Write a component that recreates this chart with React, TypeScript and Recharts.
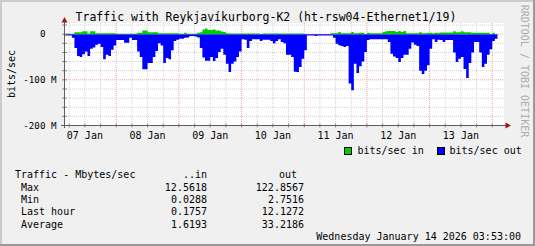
import { ComposedChart, Area, XAxis, YAxis, CartesianGrid } from "recharts";

// ── Data ──────────────────────────────────────────────────────────────────────
// hourly steps, hour 0 = 07 Jan 00:00; first step starts 07 Jan 04:00
const START_HOUR = 4;

// bits/sec in, M (drawn above zero)
const inMbits = [
  1, 1, 1, 1, 4, 4, 4, 6.5, 6.5, 1.5, 6.5, 6.5, 2, 2, 2, 2, 2, 2, 2, 2,
  1, 1, 1, 1, 1, 1, 1, 1, 3, 3, 8, 8, 4, 4, 4, 4, 2, 2, 2, 2,
  2, 2, 2, 2, 1, 1, 3, 1, 1, 1, 1, 3, 4, 10, 12.56, 9, 9, 10, 8, 8,
  6, 5, 2, 1.5, 1.5, 1.5, 1.5, 1.5, 1.5, 1.5, 1.5, 1.5, 1.5, 1.5, 1.5, 0.1, 1.5, 1.5, 1.5, 1.5,
  1.5, 1.5, 1.5, 1.5, 1.5, 1.5, 1.5, 1.5, 1.5, 1.5, 1.5, 1.5, 0.03, 0.03, 0.03, 0.03, 0.03, 0.03, 0.03, 0.03,
  0.03, 0.03, 2, 2, 2, 5, 2, 2, 2, 2, 5, 2, 2, 3, 3, 0.5, 3, 2, 2, 2,
  2, 2, 5, 6.5, 7, 7, 7, 5, 7, 5, 7, 2, 2, 2, 2, 2, 4, 2, 2, 3,
  3, 2, 3, 3, 3.5, 3.5, 3.5, 3.5, 3.5, 6.5, 4, 4, 6.5, 4, 4, 4, 3, 3, 3, 3,
  3, 3, 3, 0.2, 3, 0.18,
];

// bits/sec out, M (drawn below zero)
const outMbits = [
  3, 3, 3, 8, 30, 48, 50, 44, 38, 48, 32, 29, 23, 21, 28, 55, 45, 48, 34, 25,
  13, 13, 13, 19, 19, 8, 13, 13, 38, 50, 77, 77, 63, 63, 50, 37, 20, 25, 63, 52,
  55, 35, 15, 12, 10, 10, 8, 7, 4, 4, 5, 7, 30, 51, 58, 58, 50, 59, 52, 39,
  32, 45, 65, 83, 65, 60, 50, 38, 11, 12, 30, 15, 11, 11, 11, 15, 12, 12, 12, 15,
  20, 15, 11, 17, 20, 45, 45, 50, 82, 83, 72, 54, 35, 2.8, 2.8, 2.8, 4, 2.8, 2.8, 2.8,
  2.8, 2.8, 2.8, 8, 21, 24, 26, 28, 26, 108, 122.86, 65, 85, 70, 60, 39, 13, 11, 11, 11,
  11, 11, 11, 11, 17, 43, 49, 52, 61, 52, 45, 45, 32, 18, 23, 26, 80, 87, 80, 68,
  32, 11, 17, 12, 13, 17, 13, 13, 13, 40, 61, 54, 50, 76, 96, 63, 40, 17, 17, 40,
  72, 65, 45, 33, 15, 10, 10, 12,
];

const dayLabels = ["07 Jan", "08 Jan", "09 Jan", "10 Jan", "11 Jan", "12 Jan", "13 Jan"];
const xTicks = [
  6, 12, 18, 24, 30, 36, 42, 48, 54, 60, 66, 72, 78, 84, 90, 96,
  102, 108, 114, 120, 126, 132, 138, 144, 150, 156, 162, 168,
];
const midnights = [24, 48, 72, 96, 120, 144, 168];
const yTicks = [-200, -180, -160, -140, -120, -100, -80, -60, -40, -20, 0, 20];
const yLabels: Record<number, string> = { 0: "0  ", [-100]: "-100 M", [-200]: "-200 M" };

const statRows = ["Max", "Min", "Last hour", "Average"];
const statIn = ["12.5618", "0.0288", "0.1757", "1.6193"];
const statOut = ["122.8567", "2.7516", "12.1272", "33.2186"];

const data = inMbits.map((v, i) => ({ t: START_HOUR + i, in: v, out: -outMbits[i] }));
// closing point so the last step is drawn to the end
data.push({ t: START_HOUR + inMbits.length, in: inMbits[inMbits.length - 1], out: -outMbits[outMbits.length - 1] });

// ── Styles ────────────────────────────────────────────────────────────────────
const FONT = '"DejaVu Sans Mono", monospace';
const GRID = "#d2d2d2";
const MGRID = "#f2a0a0";
const AXIS = "#5c5c5c";
const ARROW = "#a01818";

// ── Ticks ─────────────────────────────────────────────────────────────────────
function XTick({ x, payload }: any) {
  const v = payload.value as number;
  const major = v % 24 === 0;
  const label = v % 24 === 12 ? dayLabels[(v - 12) / 24] : null;
  return (
    <g>
      <line x1={x} x2={x} y1={123.5} y2={127.5} stroke={major ? "#e06060" : "#8c8c8c"} />
      {label && (
        <text x={x} y={139} textAnchor="middle" fontSize={10} fontFamily={FONT} fill="#000">
          {label}
        </text>
      )}
    </g>
  );
}

function YTick({ y, payload }: any) {
  const v = payload.value as number;
  const major = v % 100 === 0;
  const label = yLabels[v];
  return (
    <g>
      <line x1={62} x2={67} y1={y} y2={y} stroke={major ? "#e06060" : "#8c8c8c"} />
      {label && (
        <text x={56.5} y={y + 3.3} textAnchor="end" xmlSpace="preserve" style={{ whiteSpace: "pre" }}
          fontSize={9.2} fontFamily={FONT} fill="#000">
          {label}
        </text>
      )}
    </g>
  );
}

// ── Component ─────────────────────────────────────────────────────────────────
export default function App() {
  const txt = { fontFamily: FONT, fontSize: 10, fill: "#000" } as const;
  return (
    <div style={{ position: "fixed", top: 0, left: 0, width: 535, height: 246, background: "#f0f0f0", overflow: "hidden" }}>
      <ComposedChart width={535} height={246} data={data} margin={{ top: 23, right: 31, bottom: 0, left: 0 }}>
        <CartesianGrid
          fill="#ffffff"
          stroke={GRID}
          strokeDasharray="1 1"
          horizontalValues={yTicks.filter(v => v % 100 !== 0)}
          verticalValues={xTicks.filter(v => v % 24 !== 0)}
        />
        <CartesianGrid
          stroke={MGRID}
          strokeDasharray="1 1"
          horizontalValues={[-100, 0]}
          verticalValues={midnights}
        />
        <XAxis
          dataKey="t"
          type="number"
          domain={[4, 172.5]}
          ticks={xTicks}
          interval={0}
          tick={<XTick />}
          tickLine={false}
          axisLine={false}
          height={120.5}
          allowDataOverflow
        />
        <YAxis
          type="number"
          domain={[-200, 24.5]}
          ticks={yTicks}
          interval={0}
          tick={<YTick />}
          tickLine={false}
          axisLine={false}
          width={64}
          allowDataOverflow
        />
        <Area type="stepAfter" dataKey="out" fill="#0000ff" fillOpacity={1} stroke="none"
          dot={false} activeDot={false} isAnimationActive={false} />
        <Area type="stepAfter" dataKey="in" fill="#00cc00" fillOpacity={1} stroke="none"
          dot={false} activeDot={false} isAnimationActive={false} />
      </ComposedChart>

      <svg width={535} height={246} style={{ position: "absolute", top: 0, left: 0, pointerEvents: "none" }}>
        {/* frame */}
        <rect x={0} y={0} width={535} height={2} fill="#cbcbcb" />
        <rect x={0} y={0} width={2} height={246} fill="#cbcbcb" />
        <rect x={0} y={244} width={535} height={2} fill="#999999" />
        <rect x={533} y={0} width={2} height={246} fill="#999999" />

        {/* axes */}
        <line x1={64.5} x2={64.5} y1={128} y2={20} stroke={AXIS} />
        <line x1={61} x2={507} y1={125.5} y2={125.5} stroke={AXIS} />
        <polygon points="64.5,17 61.5,22.5 67.5,22.5" fill={ARROW} />
        <polygon points="511,125.5 505.5,122.5 505.5,128.5" fill={ARROW} />

        {/* title, axis label, watermark */}
        <text x={266} y={21} textAnchor="middle" fontFamily={FONT} fontSize={11.5} fill="#000">
          Traffic with Reykjavíkurborg-K2 (ht-rsw04-Ethernet1/19)
        </text>
        <text x={14.5} y={74} textAnchor="middle" transform="rotate(-90 14.5 74)" {...txt}>
          bits/sec
        </text>
        <text x={520.5} y={71} textAnchor="middle" transform="rotate(90 520.5 71)" {...txt} fill="#ababab">
          RRDTOOL / TOBI OETIKER
        </text>

        {/* legend */}
        <rect x={344.5} y={147.5} width={7} height={7} fill="#00cc00" stroke="#000" />
        <text x={357.5} y={154} {...txt}>bits/sec in</text>
        <rect x={437.5} y={147.5} width={7} height={7} fill="#0000ff" stroke="#000" />
        <text x={449.5} y={154} {...txt}>bits/sec out</text>

        {/* statistics */}
        <text x={15} y={178} {...txt}>Traffic - Mbytes/sec</text>
        <text x={207} y={178} textAnchor="end" {...txt}>..in</text>
        <text x={297} y={178} textAnchor="end" {...txt}>out</text>
        {statRows.map((r, i) => (
          <g key={r}>
            <text x={21} y={190.5 + i * 12.4} {...txt}>{r}</text>
            <text x={207} y={190.5 + i * 12.4} textAnchor="end" {...txt}>{statIn[i]}</text>
            <text x={304} y={190.5 + i * 12.4} textAnchor="end" {...txt}>{statOut[i]}</text>
          </g>
        ))}
        <text x={521} y={240} textAnchor="end" {...txt}>Wednesday January 14 2026 03:53:00</text>
      </svg>
    </div>
  );
}
